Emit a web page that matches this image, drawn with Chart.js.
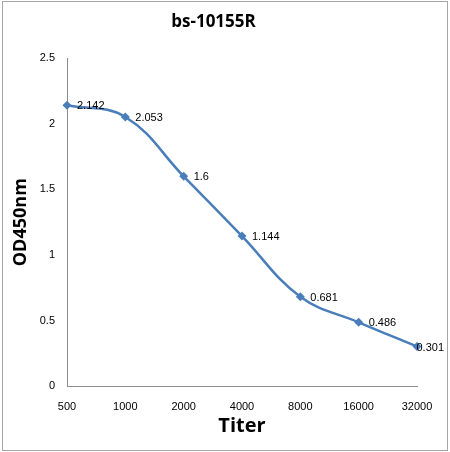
<!DOCTYPE html>
<html>
<head>
<meta charset="utf-8">
<script src="https://cdn.jsdelivr.net/npm/chart.js@4"></script>
<style>
  html, body { margin: 0; padding: 0; background: #fff; }
  #wrap { width: 450px; height: 452px; }
</style>
</head>
<body>
<div id="wrap"><canvas id="odChart" width="450" height="452"></canvas></div>
<script>
const titers = ["500", "1000", "2000", "4000", "8000", "16000", "32000"];
const odValues = [2.142, 2.053, 1.6, 1.144, 0.681, 0.486, 0.301];
const odLabels = ["2.142", "2.053", "1.6", "1.144", "0.681", "0.486", "0.301"];

// labels written next to each point
const pointLabels = {
  id: "pointLabels",
  afterDatasetsDraw(chart) {
    const ctx = chart.ctx;
    const meta = chart.getDatasetMeta(0);
    ctx.save();
    ctx.font = "11px 'Liberation Sans'";
    ctx.fillStyle = "#000";
    ctx.textBaseline = "middle";
    meta.data.forEach((pt, i) => {
      const txt = odLabels[i];
      const w = ctx.measureText(txt).width;
      const x = Math.min(pt.x + 10, chart.width - 6 - w);
      ctx.fillText(txt, x, pt.y + 1);
    });
    ctx.restore();
  },
};

// thin frame round the picture
const frame = {
  id: "frame",
  beforeDraw(chart) {
    const ctx = chart.ctx;
    ctx.save();
    ctx.fillStyle = "#fff";
    ctx.fillRect(0, 0, chart.width, chart.height);
    ctx.strokeStyle = "#a6a6a6";
    ctx.lineWidth = 1;
    ctx.strokeRect(2.5, 1.5, chart.width - 5, chart.height - 3);
    ctx.restore();
  },
};

new Chart(document.getElementById("odChart").getContext("2d"), {
  type: "line",
  data: {
    labels: titers,
    datasets: [
      {
        data: odValues,
        borderColor: "#4a7ebb",
        backgroundColor: "#4a7ebb",
        borderWidth: 2.5,
        tension: 0.4,
        pointStyle: "rectRot",
        pointRadius: 4.5,
        pointBorderWidth: 0,
        fill: false,
      },
    ],
  },
  options: {
    responsive: false,
    animation: false,
    devicePixelRatio: 1,
    layout: { padding: { left: 10, right: 33, top: 0, bottom: 14 } },
    plugins: {
      legend: { display: false },
      tooltip: { enabled: false },
      title: {
        display: true,
        text: "bs-10155R",
        color: "#000",
        font: { family: "'Open Sans'", size: 17, weight: "bold" },
        padding: { top: 12, bottom: 26 },
      },
    },
    scales: {
      x: {
        offset: false,
        grid: { drawOnChartArea: false, drawTicks: false },
        border: { color: "#8c8c8c", width: 1 },
        ticks: {
          color: "#000",
          font: { family: "'Liberation Sans'", size: 11 },
          padding: 14,
          maxRotation: 0,
          autoSkip: false,
        },
        title: {
          display: true,
          text: "Titer",
          color: "#000",
          font: { family: "'Open Sans'", size: 20, weight: "bold" },
          padding: { top: 2, bottom: 0 },
        },
        afterFit(scale) {
          scale.height = 52;
        },
      },
      y: {
        min: 0,
        max: 2.5,
        grid: { drawOnChartArea: false, drawTicks: false },
        border: { color: "#8c8c8c", width: 1 },
        ticks: {
          stepSize: 0.5,
          color: "#000",
          font: { family: "'Liberation Sans'", size: 11 },
          padding: 12,
          callback: (v) => String(Number(v.toFixed(2))),
        },
        title: {
          display: true,
          text: "OD450nm",
          color: "#000",
          font: { family: "'Open Sans'", size: 18, weight: "bold" },
          padding: { top: 0, bottom: 4 },
        },
        afterFit(scale) {
          scale.width = 57;
        },
      },
    },
  },
  plugins: [frame, pointLabels],
});
</script>
</body>
</html>
